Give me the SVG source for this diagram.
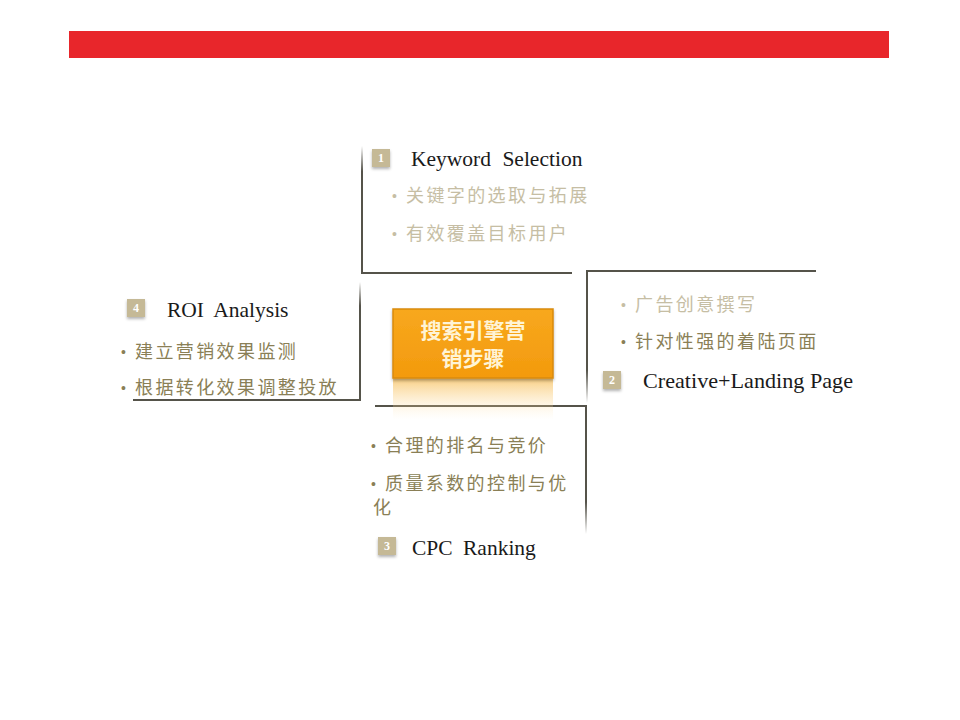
<svg xmlns="http://www.w3.org/2000/svg" width="960" height="720" viewBox="0 0 960 720">
<defs>
<style>
.en{font-family:"Liberation Serif","Times New Roman",serif;font-size:21.5px;fill:#1a1a1a}
.zh{font-family:"Noto Sans CJK SC","Noto Sans CJK JP",sans-serif;font-size:18px;letter-spacing:2.4px}
.bu{font-family:"Liberation Sans",Arial,sans-serif;font-size:14px}
.light{fill:#c6bea4}
.dark{fill:#8a7f56}
.badge{fill:#c5b996}
.bn{font-family:"Liberation Serif",serif;font-size:12px;font-weight:bold;fill:#ffffff;text-anchor:middle}
.ln{stroke:#55534a;stroke-width:2;fill:none}
</style>
<linearGradient id="fadeDown" x1="0" y1="0" x2="0" y2="1">
<stop offset="0" stop-color="#55534a"/><stop offset="0.75" stop-color="#55534a"/><stop offset="1" stop-color="#55534a" stop-opacity="0"/>
</linearGradient>
<linearGradient id="fadeUp" x1="0" y1="1" x2="0" y2="0">
<stop offset="0" stop-color="#55534a"/><stop offset="0.8" stop-color="#55534a"/><stop offset="1" stop-color="#55534a" stop-opacity="0"/>
</linearGradient>
<linearGradient id="refl" x1="0" y1="0" x2="0" y2="1">
<stop offset="0" stop-color="#f7b94a" stop-opacity="0.7"/><stop offset="1" stop-color="#fde9c0" stop-opacity="0"/>
</linearGradient>
<linearGradient id="box" x1="0" y1="0" x2="0" y2="1">
<stop offset="0" stop-color="#f8a81e"/><stop offset="1" stop-color="#f39a0d"/>
</linearGradient>
<filter id="sh" x="-20%" y="-20%" width="140%" height="160%"><feDropShadow dx="0" dy="2" stdDeviation="1.5" flood-color="#000" flood-opacity="0.3"/></filter>
</defs>
<rect width="960" height="720" fill="#ffffff"/>
<rect x="69" y="31" width="820" height="27" fill="#e8262b"/>

<g id="connectors">
<rect x="361" y="146" width="2" height="127" fill="url(#fadeUp)"/>
<line class="ln" x1="361" y1="273" x2="572" y2="273"/>
<line class="ln" x1="586" y1="271" x2="816" y2="271"/>
<rect x="586" y="271" width="2" height="132" fill="url(#fadeDown)"/>
<rect x="359" y="282" width="2" height="119" fill="url(#fadeUp)"/>
<line class="ln" x1="133" y1="400" x2="361" y2="400"/>
<line class="ln" x1="375" y1="406" x2="587" y2="406"/>
<rect x="585" y="406" width="2" height="128" fill="url(#fadeDown)"/>
</g>

<g id="center">
<rect x="393" y="378" width="160" height="42" fill="url(#refl)"/>
<rect x="393" y="309" width="160" height="69" fill="url(#box)" stroke="#d98a0a" stroke-width="1.5" filter="url(#sh)"/>
<text x="473" y="338" text-anchor="middle" font-family="Noto Sans CJK SC,sans-serif" font-size="21" font-weight="bold" fill="#fff4d6">搜索引擎营</text>
<text x="473" y="366" text-anchor="middle" font-family="Noto Sans CJK SC,sans-serif" font-size="21" font-weight="bold" fill="#fff4d6">销步骤</text>
</g>

<g id="step1">
<rect class="badge" x="372" y="149" width="18" height="18" filter="url(#sh)"/>
<text class="bn" x="381" y="162">1</text>
<text class="en" x="411" y="166" word-spacing="6">Keyword Selection</text>
<text class="bu light" x="392" y="201">•</text>
<text class="zh light" x="406" y="202">关键字的选取与拓展</text>
<text class="bu light" x="392" y="239">•</text>
<text class="zh light" x="406" y="240">有效覆盖目标用户</text>
</g>

<g id="step2">
<text class="bu light" x="621" y="310">•</text>
<text class="zh light" x="635" y="311">广告创意撰写</text>
<text class="bu dark" x="621" y="347">•</text>
<text class="zh dark" x="635" y="348">针对性强的着陆页面</text>
<rect class="badge" x="603" y="371" width="18" height="18" filter="url(#sh)"/>
<text class="bn" x="612" y="384">2</text>
<text class="en" x="643" y="388" textLength="210" lengthAdjust="spacingAndGlyphs">Creative+Landing Page</text>
</g>

<g id="step3">
<text class="bu dark" x="371" y="451">•</text>
<text class="zh dark" x="385" y="452">合理的排名与竞价</text>
<text class="bu dark" x="371" y="489">•</text>
<text class="zh dark" x="385" y="490">质量系数的控制与优</text>
<text class="zh dark" x="373" y="514">化</text>
<rect class="badge" x="378" y="537" width="18" height="18" filter="url(#sh)"/>
<text class="bn" x="387" y="550">3</text>
<text class="en" x="412" y="555" word-spacing="5">CPC Ranking</text>
</g>

<g id="step4">
<rect class="badge" x="127" y="299" width="18" height="18" filter="url(#sh)"/>
<text class="bn" x="136" y="312">4</text>
<text class="en" x="167" y="317" word-spacing="5">ROI Analysis</text>
<text class="bu dark" x="121" y="357">•</text>
<text class="zh dark" x="135" y="358">建立营销效果监测</text>
<text class="bu dark" x="121" y="393">•</text>
<text class="zh dark" x="135" y="394">根据转化效果调整投放</text>
</g>
</svg>
